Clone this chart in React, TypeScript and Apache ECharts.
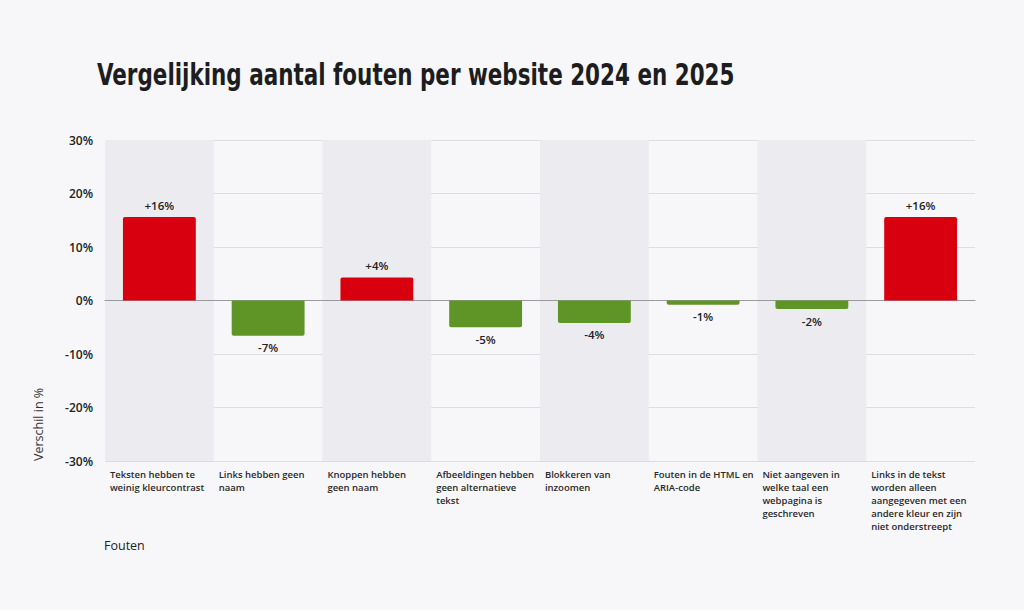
import React, { useEffect, useRef } from "react";
import * as echarts from "echarts";

const categories = [
  "Teksten hebben te\nweinig kleurcontrast",
  "Links hebben geen\nnaam",
  "Knoppen hebben\ngeen naam",
  "Afbeeldingen hebben\ngeen alternatieve\ntekst",
  "Blokkeren van\ninzoomen",
  "Fouten in de HTML en\nARIA-code",
  "Niet aangeven in\nwelke taal een\nwebpagina is\ngeschreven",
  "Links in de tekst\nworden alleen\naangegeven met een\nandere kleur en zijn\nniet onderstreept",
];
const values = [15.6, -6.6, 4.3, -5.0, -4.2, -0.8, -1.6, 15.6];
const valueLabels = ["+16%", "-7%", "+4%", "-5%", "-4%", "-1%", "-2%", "+16%"];
const yTicks = { min: -30, max: 30, interval: 10 };

const RED = "#d8000f";
const GREEN = "#5f9427";
const FONT = "'Open Sans', 'DejaVu Sans', sans-serif";

export default function App() {
  const ref = useRef<HTMLDivElement>(null);
  useEffect(() => {
    if (!ref.current) return;
    const chart = echarts.init(ref.current, null, { renderer: "svg" });
    chart.setOption({
      animation: false,
      backgroundColor: "#f7f7f9",
      textStyle: { fontFamily: FONT },
      graphic: [
        {
          type: "text",
          x: 97,
          y: 59,
          scaleX: 0.77,
          style: {
            text: "Vergelijking aantal fouten per website 2024 en 2025",
            font: "bold 31px 'DejaVu Sans Condensed', 'Liberation Sans Narrow', Roboto, sans-serif",
            fill: "#1d1d1f",
          },
        },
        {
          type: "text",
          x: 32,
          y: 461,
          rotation: Math.PI / 2,
          style: {
            text: "Verschil in %",
            font: `400 12.5px ${FONT}`,
            fill: "#333",
            align: "left",
            verticalAlign: "top",
          },
        },
        {
          type: "text",
          left: 104,
          top: 539,
          style: { text: "Fouten", font: `400 12.5px ${FONT}`, fill: "#222" },
        },
      ],
      grid: { left: 105, right: 49, top: 140, bottom: 149, containLabel: false },
      xAxis: {
        type: "category",
        data: categories,
        axisTick: { show: false },
        axisLine: { onZero: true, lineStyle: { color: "#9a9a9e", width: 1.2 } },
        splitArea: { show: true, areaStyle: { color: ["#ececf0", "rgba(0,0,0,0)"] } },
        axisLabel: {
          interval: 0,
          margin: 7,
          formatter: (v: string) =>
            v.split("\n").map((l) => `{a|${l}}`).join("\n"),
          rich: {
            a: {
              width: 99,
              align: "left",
              fontSize: 9.5,
              lineHeight: 13,
              fontFamily: FONT,
              fontWeight: 600,
              color: "#2a2a2a",
            },
          },
        },
        position: "bottom",
      },
      yAxis: {
        type: "value",
        min: yTicks.min,
        max: yTicks.max,
        interval: yTicks.interval,
        axisLabel: {
          formatter: "{value}%",
          fontSize: 12,
          fontWeight: 600,
          color: "#222",
          margin: 12,
          fontFamily: FONT,
        },
        splitLine: { lineStyle: { color: "#dcdce1", width: 1 } },
        axisLine: { show: false },
        axisTick: { show: false },
      },
      series: [
        {
          type: "bar",
          barWidth: "67%",
          data: values.map((v, i) => ({
            value: v,
            itemStyle: {
              color: v >= 0 ? RED : GREEN,
              borderRadius: v >= 0 ? [2, 2, 0, 0] : [0, 0, 2, 2],
            },
            label: {
              show: true,
              position: v >= 0 ? "top" : "bottom",
              distance: 6,
              formatter: () => valueLabels[i],
              fontSize: 11.5,
              fontWeight: 600,
              color: "#222",
              fontFamily: FONT,
            },
          })),
        },
      ],
    });
    return () => chart.dispose();
  }, []);
  return (
    <div
      ref={ref}
      style={{ position: "fixed", left: 0, top: 0, width: 1024, height: 610 }}
    />
  );
}
